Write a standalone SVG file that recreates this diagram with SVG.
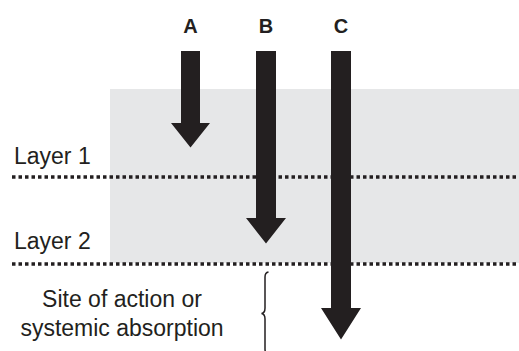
<svg xmlns="http://www.w3.org/2000/svg" width="519" height="351" viewBox="0 0 519 351">
<style>
.lbl{font-family:"Liberation Sans",Arial,sans-serif;font-size:20px;font-weight:bold;fill:#231f20;text-anchor:middle}
.txt{font-family:"Liberation Sans",Arial,sans-serif;font-size:23px;fill:#231f20}
.dot{stroke:#231f20;stroke-width:3.5;stroke-dasharray:3.5 3;fill:none}
.arr{fill:#231f20}
</style>
<rect width="519" height="351" fill="#ffffff"/>
<rect id="tissue" x="110" y="89" width="409" height="174" fill="#e6e7e8"/>
<g id="layer1">
<text class="txt" x="14" y="164">Layer 1</text>
<line class="dot" x1="12" y1="177" x2="519" y2="177"/>
</g>
<g id="layer2">
<text class="txt" x="14" y="249">Layer 2</text>
<line class="dot" x1="12" y1="264" x2="519" y2="264"/>
</g>
<g id="site">
<text class="txt" x="122" y="307" text-anchor="middle">Site of action or</text>
<text class="txt" x="122" y="336" text-anchor="middle">systemic absorption</text>
<path d="M268.5,272 Q265,272.5 265,277 L265,308 Q265,313 261.5,313.5 Q265,314 265,319 L265,349 Q265,354 268.5,354.5" fill="none" stroke="#231f20" stroke-width="1.5"/>
</g>
<g id="connectors">
<g id="arrowA">
<text class="lbl" x="190.5" y="33">A</text>
<path class="arr" d="M181,51 H200 V123 H210 L190.5,147.5 L171,123 H181 Z"/>
</g>
<g id="arrowB">
<text class="lbl" x="266" y="33">B</text>
<path class="arr" d="M256,51 H276 V218 H286 L266,243.5 L246,218 H256 Z"/>
</g>
<g id="arrowC">
<text class="lbl" x="341" y="33">C</text>
<path class="arr" d="M331,51 H351 V308 H361 L341,339.5 L321,308 H331 Z"/>
</g>
</g>
</svg>
